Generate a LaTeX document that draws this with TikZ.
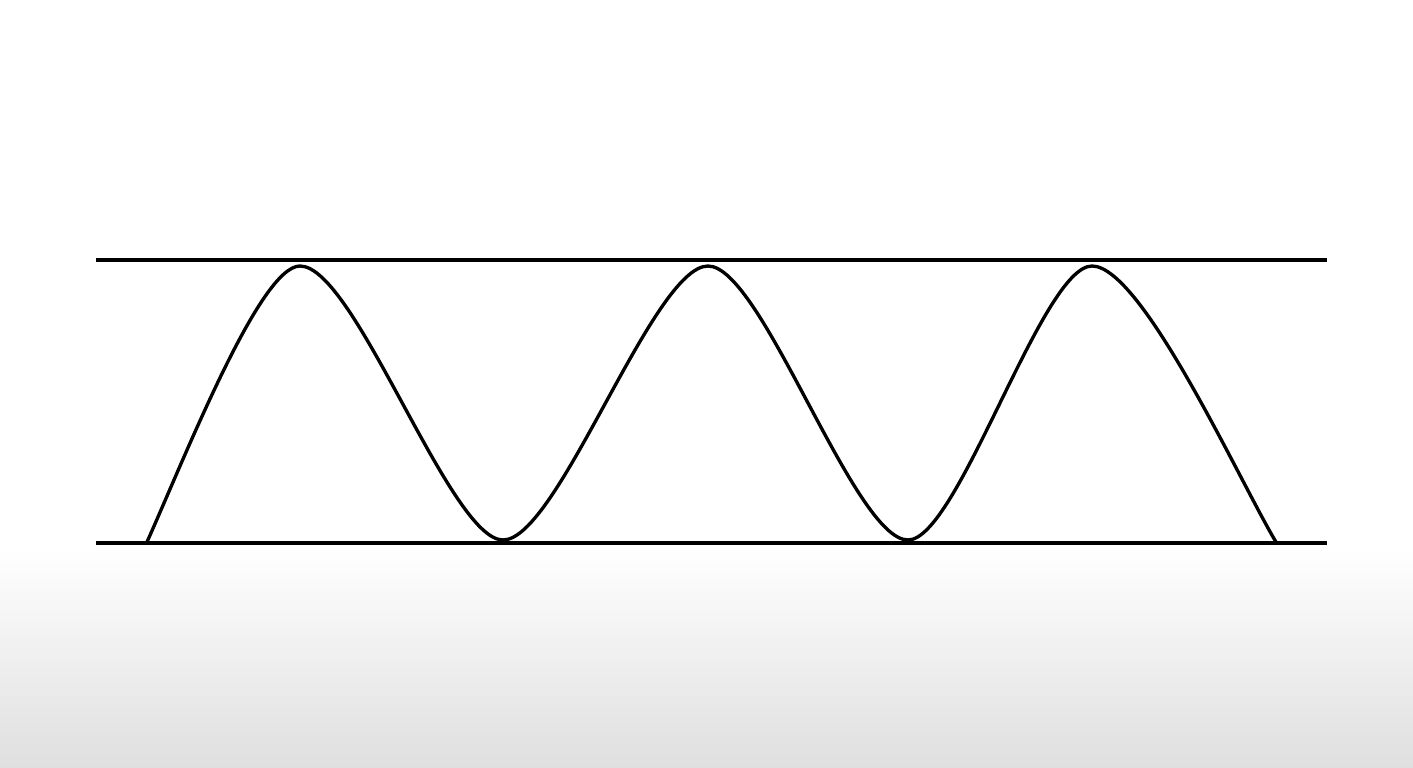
\documentclass[tikz,border=0pt]{standalone}
\usepackage{tikz}
\usetikzlibrary{positioning}

\begin{document}
\begin{tikzpicture}[scale=1, recta/.style={line width=0.9pt}, onda/.style={line width=0.95pt, line join=round}]
    \useasboundingbox (0,0) rectangle (14.13,7.67);
    % Fondo
    \fill[white] (0,0) rectangle (14.13,7.67);
    \shade[top color=white, bottom color=gray!25] (0,0) rectangle (14.13,2.19);

    % Rectas
    \coordinate (t1) at (0.96,5.07);
    \coordinate (t2) at (13.27,5.07);
    \coordinate (b1) at (0.96,2.24);
    \coordinate (b2) at (13.27,2.24);
    \draw[recta] (t1) -- (t2);
    \draw[recta] (b1) -- (b2);

    % Onda
    \coordinate (s) at (1.47,2.25);
    \coordinate (p1) at (3.00,5.01);
    \coordinate (v1) at (5.03,2.27);
    \coordinate (p2) at (7.08,5.01);
    \coordinate (v2) at (9.08,2.27);
    \coordinate (p3) at (10.92,5.01);
    \coordinate (e) at (12.76,2.25);

    \draw[onda] (s) .. controls (1.85,3.10) and (2.60,5.01) .. (p1)
      .. controls (3.55,5.01) and (4.50,2.27) .. (v1)
      .. controls (5.58,2.27) and (6.53,5.01) .. (p2)
      .. controls (7.62,5.01) and (8.54,2.27) .. (v2)
      .. controls (9.58,2.27) and (10.42,5.01) .. (p3)
      .. controls (11.42,5.01) and (12.40,2.85) .. (e);
\end{tikzpicture}
\end{document}
